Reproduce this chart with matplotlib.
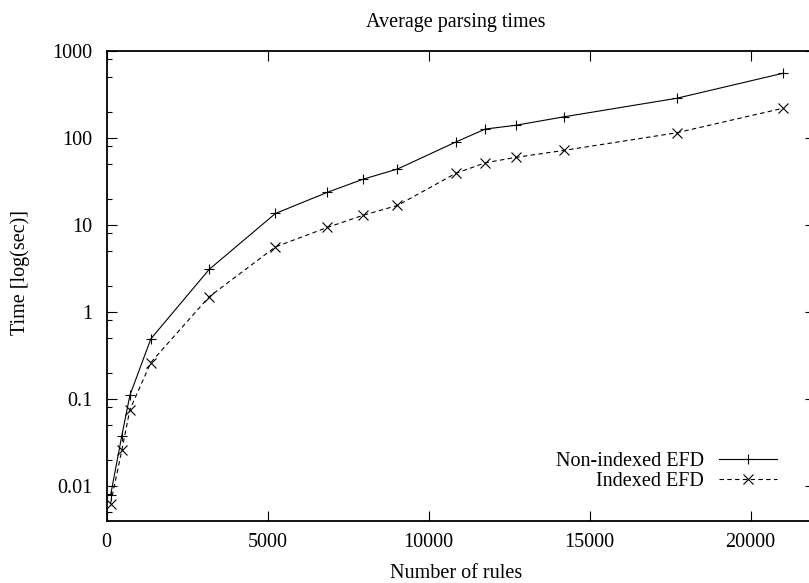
#Import necessary modules
import matplotlib
matplotlib.use('Agg')
import matplotlib.pyplot as plt
from matplotlib.ticker import LogLocator, NullFormatter, FixedLocator

#Data
rules = [120, 470, 720, 1370, 3180, 5240, 6850, 7970, 9030, 10840, 11760, 12700, 14200, 17700, 21000]
non_indexed = [0.0078, 0.038, 0.11, 0.49, 3.07, 13.5, 23.6, 33.5, 43.7, 89.3, 126, 139, 174, 284, 550]
indexed = [0.0063, 0.0257, 0.0755, 0.262, 1.49, 5.58, 9.33, 12.9, 16.7, 39.0, 51.6, 59.5, 71.6, 114, 218]
x_ticks = [0, 5000, 10000, 15000, 20000]
y_ticks = [0.01, 0.1, 1, 10, 100, 1000]
y_tick_labels = ['0.01', '0.1', '1', '10', '100', '1000']

plt.rcParams['font.family'] = ['Liberation Serif', 'DejaVu Serif']
plt.rcParams['font.size'] = 14.5

W, H = 809, 583
fig = plt.figure(figsize=(W / 100, H / 100), dpi=100)
#Plot area runs past the right edge like in the original crop
ax = fig.add_axes([106.7 / W, (H - 520.7) / H, (815 - 106.7) / W, (520.7 - 50.7) / H])

ax.plot(rules, non_indexed, color='black', lw=0.8, marker='+', ms=7.5, mew=0.8, label='Non-indexed EFD')
ax.plot(rules, indexed, color='black', lw=0.8, ls=(0, (4, 3)), marker='x', ms=6.5, mew=0.8, label='Indexed EFD')

ax.set_yscale('log')
ax.set_xlim(0, 22000)
ax.set_ylim(0.004, 1000)
ax.xaxis.set_major_locator(FixedLocator(x_ticks))
ax.set_xticklabels([str(t) for t in x_ticks])
ax.set_yticks(y_ticks)
ax.set_yticklabels(y_tick_labels)
ax.yaxis.set_minor_locator(LogLocator(base=10, subs=[2, 5, 8]))
ax.yaxis.set_minor_formatter(NullFormatter())

ax.tick_params(which='major', direction='in', length=7, width=0.8, top=True, right=True)
ax.tick_params(which='minor', direction='in', length=3.5, width=0.8, right=True)
ax.tick_params(axis='y', pad=10.5)
ax.tick_params(axis='x', pad=8.5)
for s in ax.spines.values():
    s.set_linewidth(1.3)

#Legend with text first, sample after it (gnuplot style)
ax.legend(loc='center right', bbox_to_anchor=(0.9464, 0.105), frameon=False, markerfirst=False,
          handlelength=2.9, handletextpad=0.75, labelspacing=0.05, borderpad=0, borderaxespad=0)

fig.text(366 / W, 1 - 26.5 / H, 'Average parsing times', ha='left', va='baseline')
fig.text(390 / W, 1 - 578.5 / H, 'Number of rules', ha='left', va='baseline')
fig.text(20 / W, 1 - 272.5 / H, 'Time [log(sec)]', rotation=90, ha='center', va='center')

fig.savefig('out.png', dpi=100)
